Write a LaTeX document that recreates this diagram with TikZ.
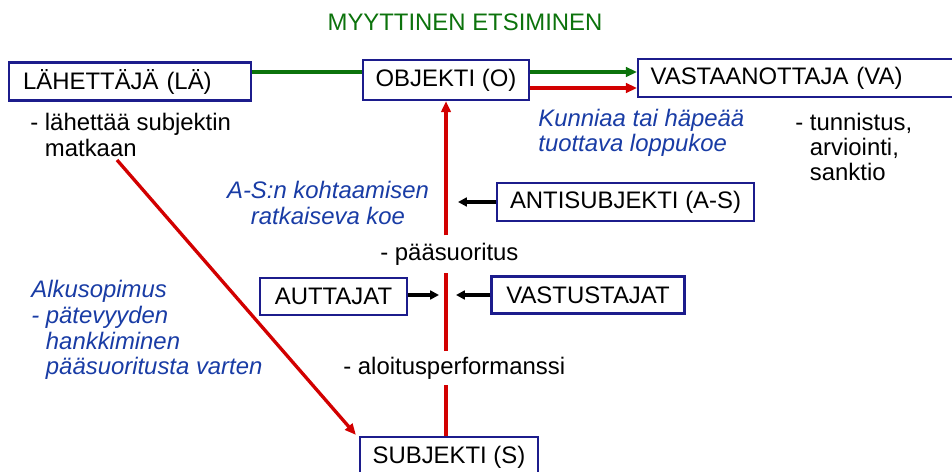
\documentclass[tikz,border=0pt]{standalone}
\usepackage{fontspec}
\setmainfont{Liberation Sans}
\usetikzlibrary{calc,positioning,arrows.meta}
\definecolor{boxblue}{RGB}{28,28,140}
\definecolor{questred}{RGB}{210,0,0}
\definecolor{mythgreen}{RGB}{12,115,12}
\definecolor{notebl}{RGB}{25,60,165}

\begin{document}
\begin{tikzpicture}[
  x=0.02cm,y=-0.02cm,
  font=\fontsize{13.6}{14.3}\selectfont,
  actant/.style={draw=boxblue,line width=1.3pt,fill=white,inner sep=0pt,minimum height=0.76cm},
  txt/.style={inner sep=0pt,align=left,anchor=west},
  testtxt/.style={txt,text=notebl,font=\fontsize{13.6}{14.6}\selectfont\itshape},
  quest/.style={draw=questred,line width=1.9pt},
  redtip/.style={-{Triangle[length=6.3pt,width=5.4pt]}},
  pusharrow/.style={draw=black,line width=2.3pt,-{Triangle[length=5pt,width=5pt]}},
  myth/.style={draw=mythgreen,line width=2pt},
]
  \useasboundingbox (0,0) rectangle (952,472);
  \clip (0,0) rectangle (952,472);

  % Title
  \node[text=mythgreen] (title) at (465,22) {MYYTTINEN ETSIMINEN};

  % Top row: sender, object, receiver
  \node[actant,anchor=west,inner xsep=0.28cm,text width=4.28cm,align=left] (LA) at (8,81.5) {LÄHETTÄJÄ (LÄ)};
  \node[actant,minimum width=3.32cm,minimum height=0.8cm] (O) at (446,80) {OBJEKTI (O)};
  \node[actant,anchor=west,inner xsep=0.25cm,text width=6.6cm,align=left] (VA) at (637,78) {VASTAANOTTAJA (VA)};

  % Notes under the top row
  \node[txt] (send) at (30,135) {- lähettää subjektin\\\phantom{- }matkaan};
  \node[testtxt] (glory) at (538,133) {Kunniaa tai häpeää\\tuottava loppukoe};
  \node[txt] (judge) at (795,147) {- tunnistus,\\\phantom{- }arviointi,\\\phantom{- }sanktio};

  % Middle: opponents and helpers
  \node[actant,minimum width=5.14cm] (AS) at (625.5,202) {ANTISUBJEKTI (A-S)};
  \node[testtxt,anchor=center,align=center] (clash) at (328,203) {A-S:n kohtaamisen\\ratkaiseva koe};
  \node[txt,inner ysep=4pt] (paa) at (380,254) {- pääsuoritus};
  \node[actant,minimum width=2.94cm,minimum height=0.74cm] (AUT) at (333.5,296.5) {AUTTAJAT};
  \node[actant,minimum width=3.86cm,minimum height=0.74cm] (VAS) at (588,295) {VASTUSTAJAT};
  \node[testtxt] (alku) at (31,330) {Alkusopimus\\- pätevyyden\\\phantom{- }hankkiminen\\\phantom{- }pääsuoritusta varten};
  \node[txt,inner ysep=3pt] (aloit) at (343,368) {- aloitusperformanssi};

  % Bottom: subject
  \node[actant,minimum width=3.56cm,minimum height=0.8cm] (S) at (449,457) {SUBJEKTI (S)};

  % Edges: top row
  \coordinate (gline) at (0,72);
  \coordinate (rline) at (0,88);
  \draw[myth] (LA.east |- gline) -- (O.west |- gline);
  \draw[myth,redtip] (O.east |- gline) -- (VA.west |- gline);
  \draw[quest,redtip] (O.east |- rline) -- (VA.west |- rline);

  % Edges: the quest line from subject to object
  \draw[quest] (O.south |- S.north) -- (O.south |- aloit.south);
  \draw[quest] (O.south |- aloit.north) -- (O.south |- paa.south);
  \draw[quest,redtip] (O.south |- paa.north) -- (O.south);

  % Edges: helpers and opponents
  \draw[pusharrow] (AS.west) -- ($(O.south |- AS.west)+(12,0)$);
  \draw[pusharrow] (AUT.east |- 0,295) -- ($(O.south |- 0,295)+(-7,0)$);
  \draw[pusharrow] (VAS.west) -- ($(O.south |- VAS.west)+(10,0)$);

  % Edges: sender sends the subject
  \coordinate (dstart) at (117,160);
  \draw[quest,redtip] (dstart) -- ($(S.north west)+(-3,-1)$);
\end{tikzpicture}
\end{document}
